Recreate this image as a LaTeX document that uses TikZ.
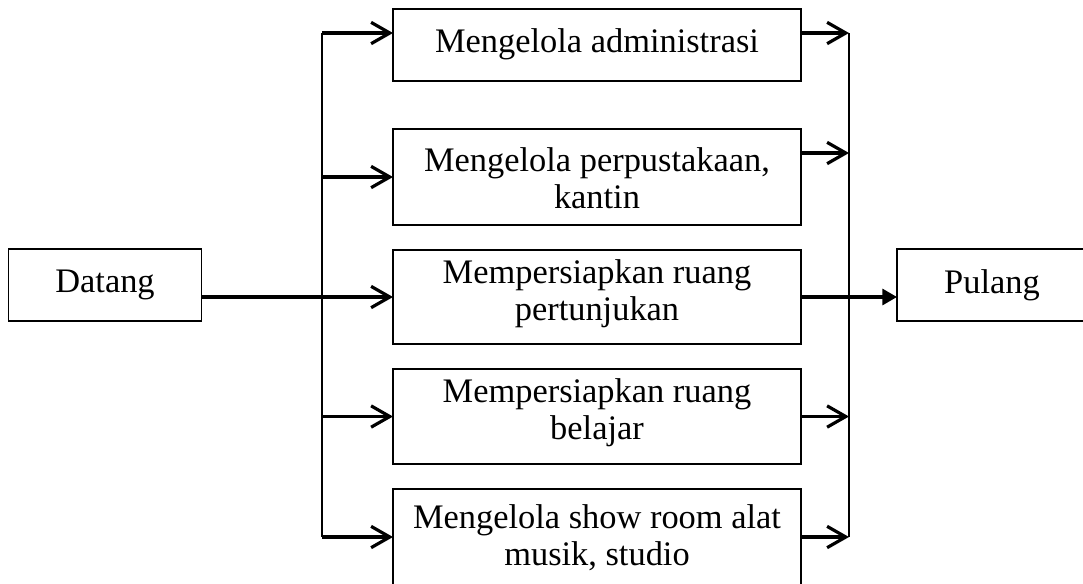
\documentclass[tikz,border=0pt]{standalone}
\usepackage{fontspec}
\setmainfont{Liberation Serif}
\usetikzlibrary{arrows.meta}
\begin{document}
\begin{tikzpicture}[x=0.75pt,y=-0.75pt,
  box/.style={draw,line width=1.1pt,inner sep=0pt,outer sep=0pt},
  lbl/.style={font=\fontsize{25.8}{28}\selectfont,align=center,inner sep=0pt},
  bus/.style={line width=1.6pt},
  flow/.style={line width=2.4pt,-{Straight Barb[length=14pt,width=16pt]}},
  solid tip/.style={line width=2.4pt,-{Triangle[length=11pt,width=12pt]}}]
\useasboundingbox (0,0) rectangle (1083,583);

% boxes (sizes in grid units: 1 unit = 0.75pt)
\node[box,minimum width=144.75pt,minimum height=54pt] (d) at (105,285) {};
\node[box,minimum width=150pt,minimum height=54pt] (p) at (997,285) {};
\node[box,minimum width=306pt,minimum height=54pt] (b1) at (597,45) {};
\node[box,minimum width=306pt,minimum height=72pt] (b2) at (597,177) {};
\node[box,minimum width=306pt,minimum height=70.5pt] (b3) at (597,297) {};
\node[box,minimum width=306pt,minimum height=71.25pt] (b4) at (597,416.5) {};
\node[box,minimum width=306pt,minimum height=83.25pt] (b5) at (597,544.5) {};

% texts
\node[lbl] (td) at (105,285) {Datang};
\node[lbl] (tp) at (992,285) {Pulang};
\node[lbl] (t1) at (597,44) {Mengelola administrasi};
\node[lbl] (t2) at (597,178) {Mengelola perpustakaan,\\kantin};
\node[lbl] (t3) at (597,294) {Mempersiapkan ruang\\pertunjukan};
\node[lbl] (t4) at (597,413) {Mempersiapkan ruang\\belajar};
\node[lbl] (t5) at (597,538) {Mengelola show room alat\\musik, studio};

% distribution and collection lines
\coordinate (lt) at (322,33);
\coordinate (lb) at (322,537);
\coordinate (rt) at (849,33);
\coordinate (rb) at (849,537);
\coordinate (r2) at (849,153);
\draw[bus] (lt) -- (lb);
\draw[bus] (rt) -- (rb);

% arrows into the activities
\draw[flow] (lt) -- (lt -| b1.west);
\draw[flow] (lt |- b2.west) -- (b2.west);
\draw[flow] (d.east |- b3.west) -- (b3.west);
\draw[flow] (lb |- b4.west) -- (b4.west);
\draw[flow] (lb) -- (lb -| b5.west);

% arrows out of the activities
\draw[flow] (b1.east |- rt) -- (rt);
\draw[flow] (b2.east |- r2) -- (r2);
\draw[solid tip] (b3.east) -- (p.west |- b3.east);
\draw[flow] (b4.east) -- (rt |- b4.east);
\draw[flow] (b5.east |- rb) -- (rb);
\end{tikzpicture}
\end{document}
